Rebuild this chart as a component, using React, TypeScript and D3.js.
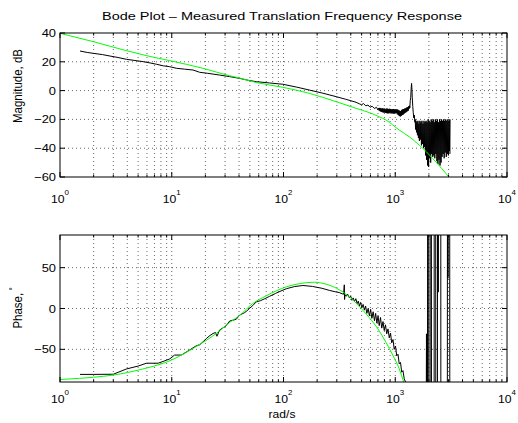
import React from 'react';
import * as d3 from 'd3';

const titleText = 'Bode Plot \u2013 Measured Translation Frequency Response';
const xTickExps = [0, 1, 2, 3, 4];
const magTicks = [40, 20, 0, -20, -40, -60];
const phaseTicks = [-50, 0, 50];

// Model (green) magnitude, dB
const modelMag: [number, number][] = [
  [1, 39.8], [1.98, 34], [3.94, 27.7], [6, 24.2], [9.6, 20.8], [19, 15.5], [33, 10.3], [40.5, 8.7],
  [57, 5.6], [98.6, 2.3], [170, -1.9], [296, -7.7], [446, -12.3], [587, -15.3], [720, -18.2],
  [826, -20.4], [1086, -27.4], [1360, -32.5], [1638, -37.8], [1900, -42.5], [2154, -47], [2600, -54],
  [3093, -61],
];

// Measured (black) magnitude, dB
const measuredMag: [number, number][] = [
  [1.51, 27.5], [1.75, 26.5], [1.98, 25.9], [2.4, 25], [2.8, 24], [3.3, 23], [3.94, 21.7], [4.6, 21],
  [5.54, 20.1], [6.4, 19.2], [7.3, 18.3], [8.4, 17.2], [9.6, 16.6], [11, 15.5], [13, 14.9], [15.5, 14.3],
  [17.8, 12.7], [21, 12], [26.8, 10.8], [33, 9.7], [40.5, 8.5], [48, 7.2], [57, 6.2], [75, 5.3],
  [98.6, 4.4], [130, 2.5], [170, 0.4], [225, -1.8], [296, -4.2], [360, -6], [446, -8.1], [478, -9.2],
  [500, -9.8], [520, -9.0], [545, -10.6], [570, -10.0], [595, -11.6], [620, -10.8], [650, -12.4],
  [680, -11.6], [700, -13.4], [710, -12.2], [719, -14.0], [727, -12.0], [735, -14.4], [742, -12.2],
  [750, -14.8], [758, -12.4], [766, -15.0], [774, -12.3], [782, -15.2], [790, -12.6], [798, -15.2],
  [806, -12.5], [815, -15.5], [823, -12.8], [832, -15.6], [840, -12.4], [849, -15.8], [857, -12.6],
  [866, -15.8], [875, -12.8], [884, -15.6], [893, -12.6], [902, -15.4], [911, -12.8], [921, -15.8],
  [930, -13.0], [940, -15.8], [950, -12.8], [960, -16.0], [970, -12.8], [980, -16.0], [990, -13.0],
  [1000, -15.6], [1010, -13.2], [1021, -15.6], [1031, -13.0], [1042, -16.4], [1053, -13.2],
  [1064, -17.0], [1075, -13.6], [1086, -17.6], [1097, -14.0], [1108, -18.0], [1120, -14.2],
  [1131, -17.6], [1143, -13.4], [1155, -17.0], [1167, -13.0], [1179, -16.6], [1191, -12.8],
  [1203, -16.0], [1215, -12.5], [1228, -15.4], [1241, -12.2], [1254, -15.0], [1267, -11.8],
  [1280, -14.4], [1293, -11.4], [1307, -14.0], [1320, -10.8], [1334, -12.5], [1342, -10.5],
  [1350, -12], [1362, -7], [1375, -5], [1390, 2], [1400, 5], [1410, 1], [1420, -5], [1435, -11],
  [1448, -15], [1465, -19], [1480, -17], [1500, -22], [1509, -20],
  [1520, -27], [1535, -21], [1550, -29], [1565, -22], [1580, -31], [1596, -21], [1612, -33],
  [1628, -23], [1645, -35], [1662, -21], [1680, -34], [1697, -22], [1715, -38], [1733, -21],
  [1751, -37], [1770, -23], [1789, -40], [1808, -21], [1827, -39], [1846, -22], [1866, -45],
  [1886, -21], [1906, -48], [1926, -22], [1947, -52], [1968, -20], [1989, -53], [2010, -21],
  [2031, -47], [2053, -22], [2075, -50], [2097, -20], [2119, -44], [2142, -21], [2165, -46],
  [2188, -20], [2211, -45], [2235, -22], [2259, -47], [2283, -20], [2308, -44], [2333, -21],
  [2358, -49], [2383, -20], [2409, -51], [2435, -22], [2461, -48], [2488, -20], [2515, -52],
  [2542, -21], [2570, -50], [2597, -20], [2625, -46], [2654, -21], [2683, -44], [2712, -20],
  [2741, -47], [2771, -21], [2801, -43], [2831, -20], [2862, -46], [2893, -21], [2924, -44],
  [2956, -20], [2988, -45], [3020, -21], [3052, -42], [3080, -20], [3085, -44],
];

// Model (green) phase, degrees
const modelPhase: [number, number][] = [
  [1, -87], [1.5, -85.5], [2, -84.2], [3, -81.5], [4, -78.5], [5, -75.5], [6, -72.8], [8, -68],
  [10, -63], [13, -55], [17.8, -44], [22, -36], [26.8, -27.4], [33, -17], [40.5, -8.5], [53, 6],
  [70, 15.5], [106, 26.5], [140, 30.5], [190, 32.2], [230, 30.5], [296, 25], [350, 19], [416, 10.9],
  [500, -0.5], [587, -11.3], [700, -25], [826, -41.5], [950, -57], [1086, -74], [1190, -90],
];

// Measured (black) phase, degrees
const measuredPhase: [number, number][] = [
  [1.51, -80.7], [2, -80.7], [3, -80.5], [3.94, -74], [5, -70.5], [5.94, -67], [7.55, -67],
  [8.5, -64.5], [9.6, -61.7], [10.6, -57], [12.2, -57], [14, -52], [16.6, -45.6], [17.8, -44.4],
  [19, -41], [20.4, -36.7], [22, -33], [23.4, -30.6], [24.6, -29.4], [25.4, -34], [26.8, -26.3],
  [30.6, -21.4], [33, -15.3], [37.7, -13.3], [40.5, -8], [44.7, -5.2], [47, -3], [50, 0.5],
  [53, 3.5], [57, 8.1], [62, 9.5], [68, 12], [75, 14.9], [85, 18.5], [95, 21.5], [106, 24.2],
  [125, 26.8], [149, 28.2], [182, 27], [220, 24.8], [257, 22.2], [290, 20.5], [315, 19.5],
  [335, 18], [345, 17.5], [350, 29], [352, 11], [355, 17], [365, 15], [375, 17.5], [389, 13],
  [400, 15], [410, 10], [420, 13], [432, 8.5], [444, 12], [456, 6], [467, 9], [478, 3], [490, 7.5],
  [503, 1], [516, 5], [530, -2], [543, 3], [557, -6], [572, 0], [587, -9], [602, -1], [618, -12],
  [634, -4], [652, -15], [668, -6], [685, -18], [702, -9], [719, -21], [738, -11], [757, -24],
  [777, -16], [797, -27], [818, -20], [839, -31], [861, -25], [884, -36], [907, -30], [930, -42],
  [955, -38], [979, -50], [1005, -46], [1031, -58], [1058, -56], [1086, -68], [1114, -66],
  [1143, -78], [1172, -76], [1203, -86], [1236, -90], [1300, -105], [1450, -125], [1600, -140],
  [1750, -150], [1890, -160], [1903, -31], [1912, -165], [1942, -176], [1948, 178], [1990, 175],
  [1996, -178], [2050, -174], [2056, 177], [2105, 178], [2110, -177], [2180, -170], [2228, -178],
  [2232, 177], [2300, 176], [2307, -178], [2340, -172], [2385, -178], [2389, 176], [2420, 175],
  [2425, 20], [2430, 176], [2555, 178], [2560, -177], [2700, -165], [2925, -178], [2932, 178],
  [2945, 40], [2950, 177], [2958, 37], [2965, 178], [3070, 179], [3078, -178],
];

const FONT = "'Liberation Sans', Arial, Helvetica, sans-serif";
const W = 518;
const H = 423;
const LEFT = 60;
const RIGHT = 507;
const FS = 11.5;

type Scale = d3.ScaleLinear<number, number>;

function SText(props: {
  x: number;
  y: number;
  anchor?: string;
  sx?: number;
  children: React.ReactNode;
  size?: number;
}) {
  return (
    <text
      transform={`translate(${props.x},${props.y}) scale(${props.sx ?? 1.1},1)`}
      textAnchor={props.anchor || 'start'}
      fontSize={props.size || FS}
      fontFamily={FONT}
      fill="#000"
    >
      {props.children}
    </text>
  );
}

function Panel(props: {
  id: string;
  top: number;
  bottom: number;
  labelY: number;
  y: Scale;
  yTicks: number[];
  x: d3.ScaleLogarithmic<number, number>;
  series: { data: [number, number][]; color: string; smooth: boolean }[];
}) {
  const { id, top, bottom, labelY, y, yTicks, x, series } = props;
  const allX = x.ticks();
  const minorX = allX.filter((v) => !xTickExps.some((e) => Math.abs(v - Math.pow(10, e)) < 1e-9));
  const line = (smooth: boolean) =>
    d3
      .line<[number, number]>()
      .x((d) => x(d[0]))
      .y((d) => y(d[1]))
      .curve(smooth ? d3.curveMonotoneX : d3.curveLinear);
  return (
    <g>
      <defs>
        <clipPath id={id}>
          <rect x={LEFT} y={top} width={RIGHT - LEFT} height={bottom - top} />
        </clipPath>
      </defs>
      <g stroke="#000" strokeWidth={0.6} strokeDasharray="1 3" fill="none">
        {allX
          .filter((v) => v > 1 && v < 1e4)
          .map((v, i) => (
            <line key={'gx' + i} x1={x(v)} x2={x(v)} y1={top} y2={bottom} />
          ))}
        {yTicks
          .filter((v) => y(v) > top + 1 && y(v) < bottom - 1)
          .map((v, i) => (
            <line key={'gy' + i} x1={LEFT} x2={RIGHT} y1={y(v)} y2={y(v)} />
          ))}
      </g>
      <g clipPath={`url(#${id})`} fill="none">
        {series.map((s, i) => (
          <path key={i} d={line(s.smooth)(s.data) || ''} stroke={s.color} strokeWidth={1} />
        ))}
      </g>
      <g stroke="#000" strokeWidth={1}>
        {xTickExps.map((e) => {
          const px = x(Math.pow(10, e));
          return (
            <g key={'mt' + e}>
              <line x1={px} x2={px} y1={bottom} y2={bottom - 5} />
              <line x1={px} x2={px} y1={top} y2={top + 5} />
            </g>
          );
        })}
        {minorX.map((v, i) => (
          <g key={'mn' + i}>
            <line x1={x(v)} x2={x(v)} y1={bottom} y2={bottom - 2.5} />
            <line x1={x(v)} x2={x(v)} y1={top} y2={top + 2.5} />
          </g>
        ))}
        {yTicks.map((v, i) => (
          <g key={'yt' + i}>
            <line x1={LEFT} x2={LEFT + 5} y1={y(v)} y2={y(v)} />
            <line x1={RIGHT} x2={RIGHT - 5} y1={y(v)} y2={y(v)} />
          </g>
        ))}
      </g>
      <rect x={LEFT} y={top} width={RIGHT - LEFT} height={bottom - top} fill="none" stroke="#000" strokeWidth={1} />
      {yTicks.map((v, i) => (
        <SText key={'yl' + i} x={LEFT - 4} y={y(v) + 4} anchor="end" sx={1.12}>
          {v < 0 ? '\u2212' + Math.abs(v) : String(v)}
        </SText>
      ))}
      {xTickExps.map((e) => (
        <SText key={'xl' + e} x={x(Math.pow(10, e))} y={labelY} anchor="middle" sx={1.06}>
          <tspan>10</tspan>
          <tspan dy={-8} fontSize={7.5}>
            {e}
          </tspan>
        </SText>
      ))}
    </g>
  );
}

export default function App() {
  const x = d3.scaleLog().domain([1, 1e4]).range([LEFT, RIGHT]);
  const magTop = 33;
  const magBottom = 177;
  const phTop = 235;
  const phBottom = 382;
  const yMag = d3.scaleLinear().domain([-60, 40]).range([magBottom, magTop]);
  const yPh = d3.scaleLinear().domain([-90, 90]).range([phBottom, phTop]);
  return (
    <svg
      width={W}
      height={H}
      style={{ position: 'absolute', left: 0, top: 0, background: '#fff' }}
      fontFamily={FONT}
    >
      <rect x={0} y={0} width={W} height={H} fill="#fff" />
      <SText x={282} y={20} anchor="middle" sx={1.26}>
        {titleText}
      </SText>
      <Panel
        id="clipMag"
        top={magTop}
        bottom={magBottom}
        labelY={203}
        y={yMag}
        yTicks={magTicks}
        x={x}
        series={[
          { data: measuredMag, color: '#000', smooth: false },
          { data: modelMag, color: '#00ff00', smooth: true },
        ]}
      />
      <Panel
        id="clipPh"
        top={phTop}
        bottom={phBottom}
        labelY={403}
        y={yPh}
        yTicks={phaseTicks}
        x={x}
        series={[
          { data: measuredPhase, color: '#000', smooth: false },
          { data: modelPhase, color: '#00ff00', smooth: true },
        ]}
      />
      <text transform="translate(22,86) scale(1.15,1) rotate(-90)" textAnchor="middle" fontSize={FS}>
        Magnitude, dB
      </text>
      <text transform="translate(22,308) scale(1.15,1) rotate(-90)" textAnchor="middle" fontSize={FS}>
        Phase,
        <tspan dy={-5} fontSize={8}>
          {' \u00b0'}
        </tspan>
      </text>
      <SText x={282} y={418} anchor="middle" sx={1.05}>
        rad/s
      </SText>
    </svg>
  );
}
